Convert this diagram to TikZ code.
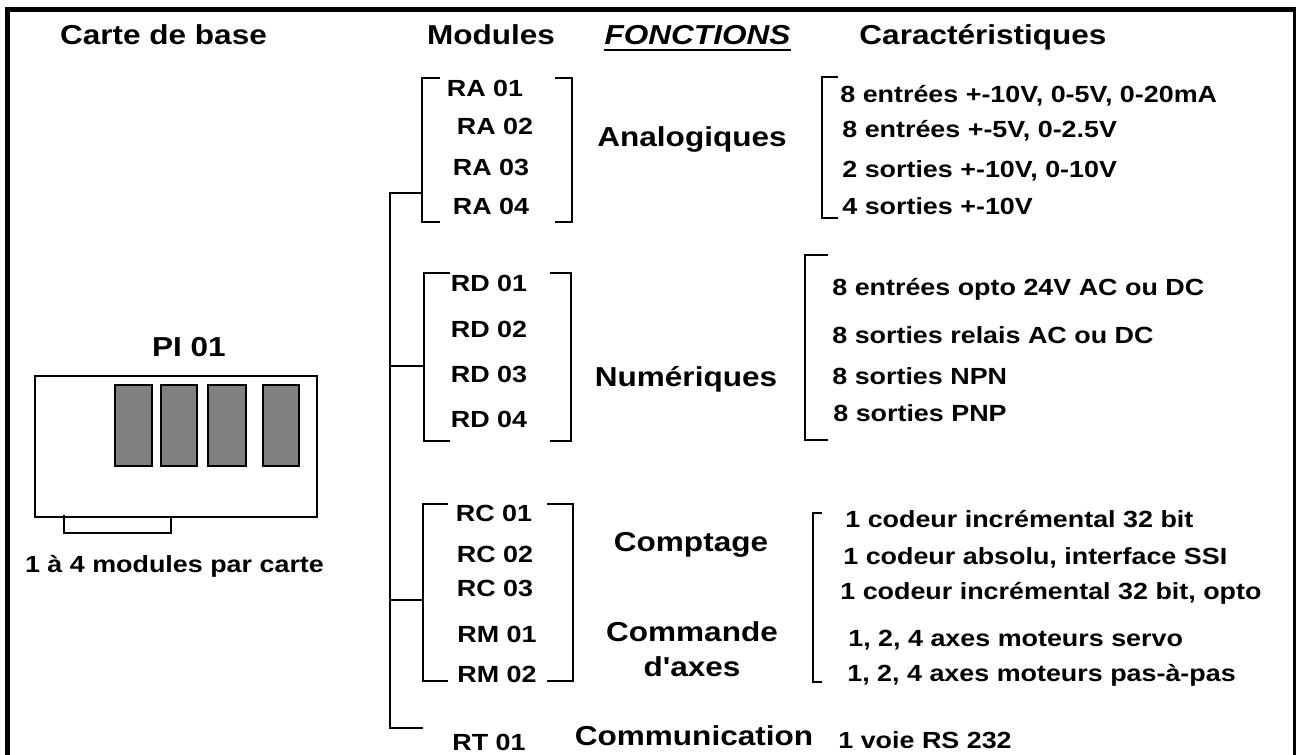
\documentclass[tikz,border=0pt]{standalone}
\usepackage{fontspec}
\setmainfont{Liberation Sans}[FakeStretch=1.15,Ligatures=TeXOff]
\usepackage{tikz}

\tikzset{
  big/.style={inner sep=0pt, anchor=base, font=\bfseries\fontsize{15.6}{18}\selectfont},
  small/.style={inner sep=0pt, anchor=base, font=\bfseries\fontsize{13.3}{16}\selectfont},
  spec/.style={small, anchor=base west},
  brk/.style={line width=1.1pt},
  slot/.style={draw, line width=1.1pt, fill=gray},
}

\begin{document}
\begin{tikzpicture}
    \useasboundingbox (0,0) rectangle (25.92,15.1);

    % Frame
    \draw[line width=2.8pt] (0.15,0) -- (0.15,14.91) -- (25.92,14.91);
    \draw[line width=1.7pt] (25.89,14.91) -- (25.89,0);

    % Headings
    \node[big] (carte) at (3.27,14.2) {Carte de base};
    \node[big] (modules) at (9.82,14.2) {Modules};
    \node[big] (fonctions) at (13.95,14.2) {\itshape FONCTIONS};
    \draw[line width=1.1pt] ([yshift=-3pt]fonctions.base west) -- ([yshift=-3pt]fonctions.base east);
    \node[big] (caract) at (19.66,14.2) {Caractéristiques};

    % Base card
    \node[big] (pi) at (3.78,7.96) {PI 01};
    \draw[line width=0.75pt] (0.70,4.76) rectangle (6.34,7.58);
    \foreach \xa/\xb in {2.30/3.04, 3.22/3.94, 4.16/4.92, 5.26/5.98}
        \draw[slot] (\xa,5.78) rectangle (\xb,7.40);
    \draw[line width=0.75pt] (1.28,4.80) -- (1.28,4.44) -- (3.42,4.44) -- (3.42,4.76);
    \node[small] (nbmod) at (3.49,3.64) {1 à 4 modules par carte};

    % Modules
    \node[small] (ra1) at (9.70,13.16) {RA 01};
    \node[small] (ra2) at (9.90,12.40) {RA 02};
    \node[small] (ra3) at (9.82,11.58) {RA 03};
    \node[small] (ra4) at (9.82,10.80) {RA 04};
    \node[small] (rd1) at (9.78,9.26) {RD 01};
    \node[small] (rd2) at (9.78,8.34) {RD 02};
    \node[small] (rd3) at (9.78,7.44) {RD 03};
    \node[small] (rd4) at (9.78,6.54) {RD 04};
    \node[small] (rc1) at (9.88,4.66) {RC 01};
    \node[small] (rc2) at (9.90,3.84) {RC 02};
    \node[small] (rc3) at (9.90,3.16) {RC 03};
    \node[small] (rm1) at (9.94,2.24) {RM 01};
    \node[small] (rm2) at (9.94,1.44) {RM 02};
    \node[small] (rt1) at (9.78,0.08) {RT 01};

    % Brackets round the modules
    \draw[brk] (8.80,13.54) -- (8.44,13.54) -- (8.44,10.66) -- (8.80,10.66);
    \draw[brk] (11.10,13.54) -- (11.44,13.54) -- (11.44,10.66) -- (11.10,10.66);
    \draw[brk] (9.00,9.64) -- (8.48,9.64) -- (8.48,6.28) -- (9.00,6.28);
    \draw[brk] (11.00,9.64) -- (11.42,9.64) -- (11.42,6.28) -- (11.00,6.28);
    \draw[brk] (8.96,5.02) -- (8.46,5.02) -- (8.46,1.48) -- (8.96,1.48);
    \draw[brk] (10.94,5.02) -- (11.46,5.02) -- (11.46,1.48) -- (10.94,1.48);

    % Trunk
    \coordinate (trunk) at (7.80,11.24);
    \coordinate (ana) at (8.44,11.24);
    \coordinate (num) at (8.48,7.78);
    \coordinate (cpt) at (8.46,3.10);
    \coordinate (com) at (8.46,0.54);
    \draw[brk] (ana) -- (trunk) |- (com);
    \draw[brk] (trunk |- num) -- (num);
    \draw[brk] (trunk |- cpt) -- (cpt);

    % Functions
    \node[big] (analog) at (13.84,12.16) {Analogiques};
    \node[big] (numer) at (13.72,7.36) {Numériques};
    \node[big] (compt) at (13.82,4.06) {Comptage};
    \node[big] (cmd) at (13.84,2.26) {Commande};
    \node[big] (axes) at (13.84,1.56) {d'axes};
    \node[big] (commu) at (13.88,0.18) {Communication};

    % Characteristics
    \draw[brk] (16.76,13.56) -- (16.44,13.56) -- (16.44,10.74) -- (16.76,10.74);
    \draw[brk] (16.56,10.00) -- (16.10,10.00) -- (16.10,6.30) -- (16.56,6.30);
    \draw[brk] (16.44,4.84) -- (16.26,4.84) -- (16.26,1.46) -- (16.44,1.46);

    \node[spec] (c1) at (16.80,13.04) {8 entrées +-10V, 0-5V, 0-20mA};
    \node[spec] (c2) at (16.84,12.34) {8 entrées +-5V, 0-2.5V};
    \node[spec] (c3) at (16.84,11.54) {2 sorties +-10V, 0-10V};
    \node[spec] (c4) at (16.84,10.80) {4 sorties +-10V};
    \node[spec] (c5) at (16.64,9.18) {8 entrées opto 24V AC ou DC};
    \node[spec] (c6) at (16.64,8.22) {8 sorties relais AC ou DC};
    \node[spec] (c7) at (16.64,7.40) {8 sorties NPN};
    \node[spec] (c8) at (16.66,6.66) {8 sorties PNP};
    \node[spec] (c9) at (16.90,4.54) {1 codeur incrémental 32 bit};
    \node[spec] (c10) at (16.86,3.80) {1 codeur absolu, interface SSI};
    \node[spec] (c11) at (16.80,3.10) {1 codeur incrémental 32 bit, opto};
    \node[spec] (c12) at (16.96,2.16) {1, 2, 4 axes moteurs servo};
    \node[spec] (c13) at (16.94,1.46) {1, 2, 4 axes moteurs pas-à-pas};
    \node[spec] (c14) at (16.76,0.12) {1 voie RS 232};
\end{tikzpicture}
\end{document}
